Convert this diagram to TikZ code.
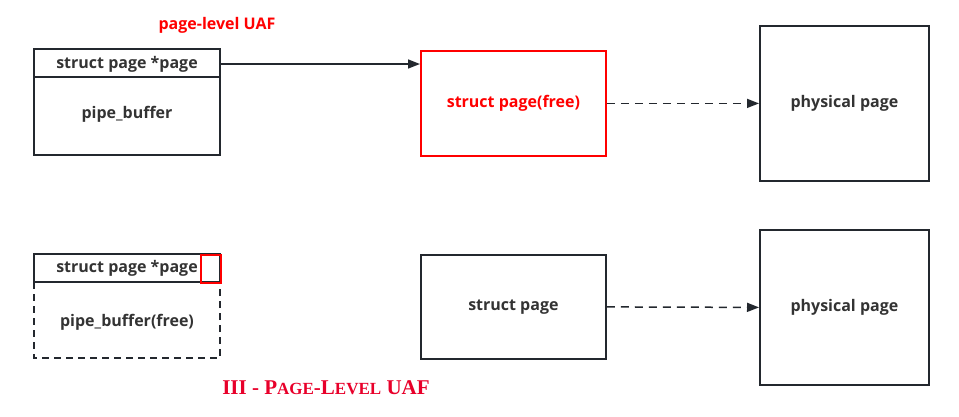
\documentclass[tikz,border=0pt]{standalone}
\usepackage{fontspec}
\setmainfont{Open Sans}
\newfontfamily\titlefont{Liberation Serif}
\usetikzlibrary{arrows.meta}
\definecolor{ln}{HTML}{23282E}
\definecolor{tx}{HTML}{333333}
\definecolor{rd}{HTML}{FF0000}
\definecolor{crim}{HTML}{E8002A}
\tikzset{
  lbl/.style={font=\fontsize{16}{18}\selectfont\bfseries, text=tx},
  boxline/.style={draw=ln, line width=1.8pt},
  redline/.style={draw=rd, line width=1.8pt},
  conn/.style={draw=ln, line width=1.5pt, -{Triangle[length=12pt,width=9pt]}},
  dconn/.style={conn, dash pattern=on 8pt off 6pt},
}
\begin{document}
\begin{tikzpicture}[x=1pt,y=-1pt]
\useasboundingbox (0,0) rectangle (959,416);
% top left
\draw[boxline] (34,49) rectangle (220,155);
\draw[boxline] (34,77) -- (220,77);
\node[lbl] (h1) at (127,64) {struct page *page};
\node[lbl] (pb1) at (127,114) {pipe\_buffer};
\coordinate (h1r) at (220,64);
% red struct page
\node[redline, minimum width=185pt, minimum height=105pt, inner sep=0pt, anchor=north west,
  font=\fontsize{16}{18}\selectfont\bfseries, text=rd] (sp1) at (420,50) {struct page(free)};
\node[boxline, minimum width=169pt, minimum height=155pt, inner sep=0pt, anchor=north west, lbl] (pp1) at (759,25) {physical page};
\draw[conn] (h1r) -- (sp1.west |- h1r);
\draw[dconn] (sp1.east) -- (pp1.west);
\node[font=\fontsize{16}{18}\selectfont\bfseries, text=rd] (t1) at (217,25) {page-level UAF};
% bottom left
\draw[boxline] (34,282) -- (34,254) -- (220,254) -- (220,282);
\draw[boxline] (34,282) -- (220,282);
\draw[boxline, dash pattern=on 7pt off 5pt] (34,282) -- (34,358) -- (220,358) -- (220,282);
\node[lbl] (h2) at (127,268) {struct page *page};
\node[lbl] (pb2) at (127,322) {pipe\_buffer(free)};
\node[redline, line width=2.2pt, minimum width=20pt, minimum height=28pt, inner sep=0pt, anchor=north west] (ptr) at (200,254) {};
% struct page
\node[boxline, minimum width=185pt, minimum height=104pt, inner sep=0pt, anchor=north west, lbl] (sp2) at (420,254) {struct page};
\node[boxline, minimum width=169pt, minimum height=155pt, inner sep=0pt, anchor=north west, lbl] (pp2) at (759,229) {physical page};
\draw[dconn] (sp2.east) -- (pp2.west);
\node[font=\titlefont\fontsize{21}{23}\selectfont\bfseries, text=crim] (t2) at (326,388) {III - P{\fontsize{17}{19}\selectfont AGE}-L{\fontsize{17}{19}\selectfont EVEL} UAF};
\end{tikzpicture}
\end{document}
